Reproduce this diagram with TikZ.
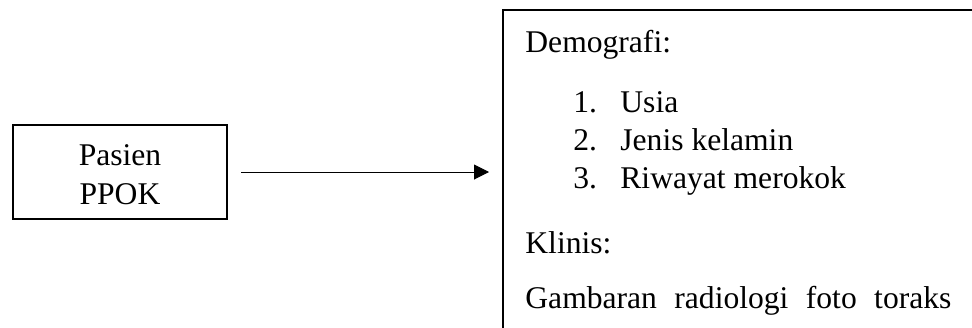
\documentclass[tikz,border=0pt]{standalone}
\usepackage{fontspec}
\setmainfont{Liberation Serif}
\usetikzlibrary{arrows.meta}
\begin{document}
\begin{tikzpicture}[x=0.5pt,y=-0.5pt,
  txt/.style={inner sep=0pt,anchor=base west,font=\fontsize{15.8pt}{19pt}\selectfont},
  ctxt/.style={inner sep=0pt,anchor=base,font=\fontsize{15.8pt}{19pt}\selectfont},
  frame/.style={draw=black,line width=1pt}]
\useasboundingbox (0,0) rectangle (972,327);
% left box
\node[frame,minimum width=107pt,minimum height=47pt,inner sep=0pt] (lbox) at (120,172) {};
\node[ctxt] (l1) at (120,165) {Pasien};
\node[ctxt] (l2) at (120,204) {PPOK};
% right box (cropped)
\coordinate (rtl) at (503,10);
\coordinate (rtr) at (980,10);
\coordinate (rbl) at (503,335);
\draw[frame] (rtr) -- (rtl) -- (rbl);
\coordinate (rin) at (503,172);
% arrow
\draw[line width=0.5pt,-{Triangle[length=7.5pt,width=7.5pt]},shorten <=6.5pt,shorten >=7pt] (lbox.east) -- (rin);
% texts
\node[txt] (d) at (525,52) {Demografi:};
\node[txt] (n1) at (573,112) {1.};
\node[txt] (i1) at (620,112) {Usia};
\node[txt] (n2) at (573,150) {2.};
\node[txt] (i2) at (620,150) {Jenis kelamin};
\node[txt] (n3) at (573,188) {3.};
\node[txt] (i3) at (620,188) {Riwayat merokok};
\node[txt] (k) at (525,253) {Klinis:};
\node[txt] (g) at (525,308) {\makebox[213pt][s]{Gambaran\hfill radiologi\hfill foto\hfill toraks}};
\end{tikzpicture}
\end{document}
